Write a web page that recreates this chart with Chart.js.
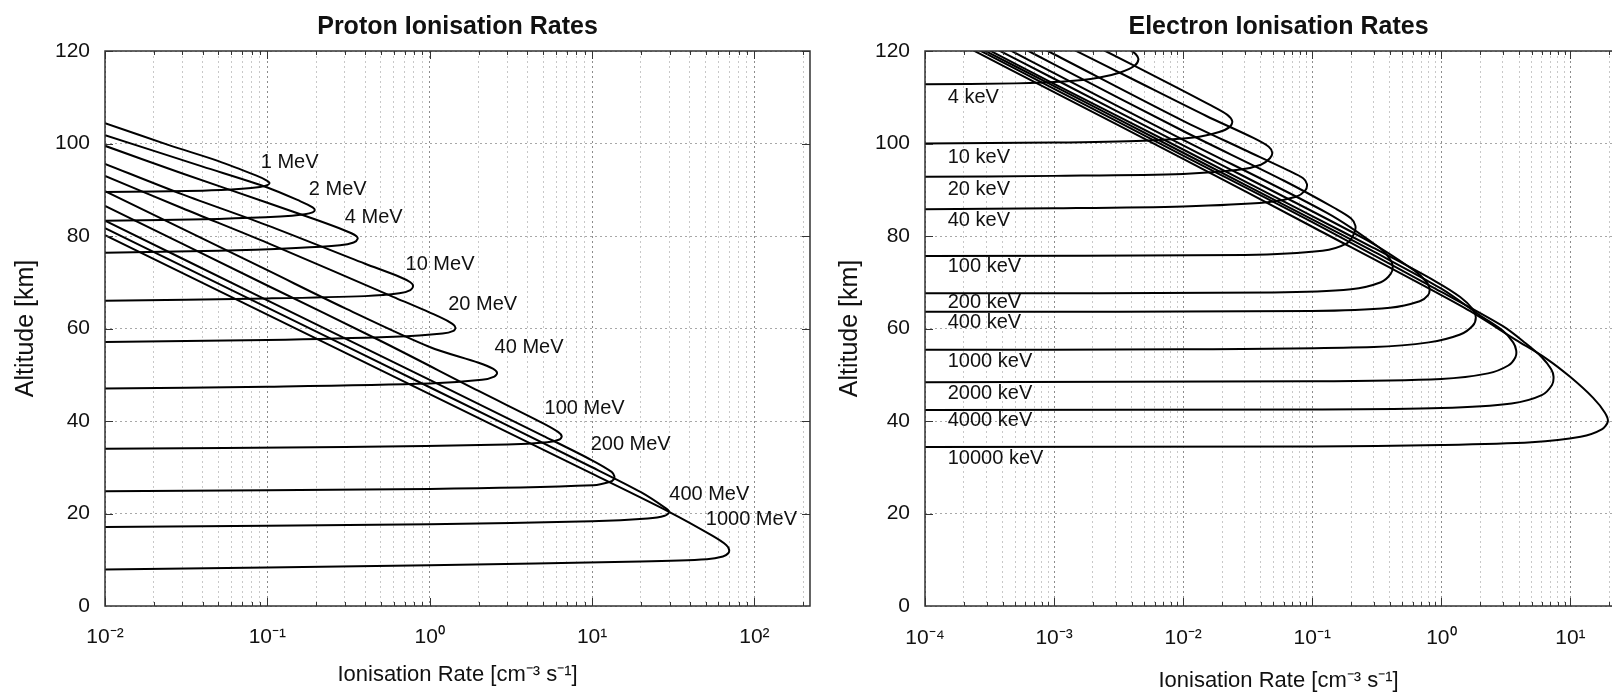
<!DOCTYPE html>
<html>
<head>
<meta charset="utf-8">
<script src="https://cdn.jsdelivr.net/npm/chart.js@4.4.1/dist/chart.umd.min.js"></script>
<style>
  html, body { margin: 0; padding: 0; background: #fff; width: 1612px; height: 694px; overflow: hidden; position: relative; }
  .box { position: absolute; top: 0; }
  #protonBox { left: 0; width: 830px; height: 694px; }
  #electronBox { left: 820px; width: 812px; height: 694px; }
  canvas { display: block; }
</style>
</head>
<body>
<div class="box" id="protonBox"><canvas id="protonChart" width="830" height="694"></canvas></div>
<div class="box" id="electronBox"><canvas id="electronChart" width="812" height="694"></canvas></div>
<script>
// curves are [rate, altitude] pairs, read along each hairpin: lower branch -> peak -> upper branch
var proton1MeV = [[0.01,89.5],[0.04,89.8],[0.07,90.2],[0.09,90.6],[0.1,91.0],[0.103,91.5],[0.098,92.1],[0.085,93.1],[0.05,96.2],[0.025,99.6],[0.01,104.4]];
var proton2MeV = [[0.01,83.3],[0.05,83.7],[0.12,84.2],[0.17,84.7],[0.19,85.1],[0.196,85.6],[0.19,86.2],[0.16,87.5],[0.1,90.5],[0.04,95.0],[0.01,101.8]];
var proton4MeV = [[0.01,76.4],[0.05,76.8],[0.15,77.4],[0.28,78.0],[0.34,78.6],[0.36,79.4],[0.35,80.1],[0.3,81.2],[0.2,83.5],[0.1,87.2],[0.03,93.5],[0.01,99.5]];
var proton10MeV = [[0.01,66.0],[0.1,66.5],[0.4,67.0],[0.65,67.6],[0.76,68.3],[0.79,69.2],[0.76,70.0],[0.65,71.2],[0.4,74.0],[0.1,82.3],[0.03,89.0],[0.01,95.6]];
var proton20MeV = [[0.01,57.1],[0.1,57.5],[0.6,58.2],[1.2,58.9],[1.4,59.5],[1.44,60.2],[1.38,61.0],[1.15,62.5],[0.6,66.8],[0.1,78.5],[0.03,86.0],[0.01,93.0]];
var proton40MeV = [[0.01,47.0],[0.1,47.4],[1,48.1],[2.1,48.9],[2.5,49.6],[2.6,50.4],[2.45,51.3],[2.0,52.6],[1.0,56.0],[0.3,64.4],[0.1,72.6],[0.01,89.7]];
var proton100MeV = [[0.01,34.0],[0.3,34.4],[3,34.9],[5.3,35.4],[6.3,36.0],[6.5,36.7],[6.2,37.6],[5,39.5],[2,46.5],[0.5,57.3],[0.1,69.3],[0.01,86.5]];
var proton200MeV = [[0.01,24.8],[1,25.3],[10.2,26.1],[12.8,26.8],[13.6,27.4],[13.7,28.1],[13.2,29.0],[10,31.5],[5,36.8],[1,48.9],[0.1,66.1],[0.01,83.3]];
var proton400MeV = [[0.01,17.1],[1,17.7],[10,18.3],[22,18.9],[28,19.5],[29.9,20.3],[28.5,21.1],[20,24.6],[10,30.0],[1,47.3],[0.1,64.5],[0.01,81.7]];
var proton1000MeV = [[0.01,7.9],[1,8.8],[20,9.6],[51,10.1],[64,10.7],[69,11.4],[69.8,12.2],[67,13.2],[55,15.2],[30,20.3],[10,28.6],[1,45.8],[0.1,63.0],[0.01,80.2]];

var electron4keV = [[1e-4,112.8],[5e-4,113.0],[1.2e-3,113.4],[2.2e-3,114.2],[3.3e-3,115.4],[4.2e-3,116.8],[4.5e-3,118.2],[4.3e-3,119.3],[3.8e-3,120.5]];
var electron10keV = [[1e-4,100.0],[1e-3,100.2],[5e-3,100.6],[0.012,101.3],[0.019,102.5],[0.023,103.6],[0.024,104.8],[0.022,106.2],[0.016,108.4],[0.008,112.8],[0.0025,120.0],[0.002,121.4]];
var electron20keV = [[1e-4,92.8],[1e-3,93.0],[0.01,93.4],[0.027,94.3],[0.04,95.4],[0.047,96.8],[0.049,98.0],[0.046,99.3],[0.035,101.2],[0.015,106.0],[0.004,114.0],[0.0012,121.3]];
var electron40keV = [[1e-4,85.8],[1e-3,86.0],[0.01,86.4],[0.045,87.3],[0.075,88.5],[0.088,89.8],[0.091,91.2],[0.085,92.5],[0.065,94.2],[0.03,98.6],[0.01,104.9],[0.001,119.3],[0.0007,121.5]];
var electron100keV = [[1e-4,75.7],[0.03,75.9],[0.12,76.8],[0.185,78.4],[0.21,80.4],[0.216,82.2],[0.2,83.8],[0.15,86.0],[0.06,92.0],[0.01,102.7],[0.001,117.1],[5e-4,121.5]];
var electron200keV = [[1e-4,67.6],[0.05,67.8],[0.2,68.5],[0.34,70.0],[0.405,71.8],[0.42,73.5],[0.4,75.0],[0.33,77.5],[0.13,85.0],[0.01,100.8],[0.001,115.2],[4e-4,121.0]];
var electron400keV = [[1e-4,63.6],[0.1,63.8],[0.4,64.5],[0.68,65.9],[0.79,67.2],[0.81,68.6],[0.77,70.0],[0.62,72.5],[0.25,79.5],[0.01,99.6],[0.001,114.0],[3e-4,121.5]];
var electron1000keV = [[1e-4,55.4],[0.01,55.5],[0.3,56.0],[0.8,57.0],[1.4,58.7],[1.75,60.6],[1.85,62.4],[1.75,64.2],[1.4,66.8],[0.9,70.2],[0.3,77.4],[0.1,84.3],[0.01,98.7],[0.001,112.9],[2.8e-4,120.9]];
var electron2000keV = [[1e-4,48.4],[0.1,48.6],[1,49.1],[2.3,50.3],[3.3,52.0],[3.75,53.8],[3.8,55.3],[3.6,57.0],[3.0,59.5],[2.0,62.8],[1.0,68.6],[0.3,76.6],[0.1,83.6],[0.01,98.0],[0.001,112.4],[2.5e-4,121.0]];
var electron4000keV = [[1e-4,42.4],[0.1,42.5],[1,42.8],[3.5,43.8],[6.0,45.6],[7.2,47.8],[7.4,49.6],[7.1,51.2],[6.0,53.8],[4.5,56.8],[3.0,60.5],[1.0,67.9],[0.1,83.0],[0.01,97.4],[0.001,111.8],[2.2e-4,121.3]];
var electron10000keV = [[1e-4,34.4],[0.1,34.5],[1,34.8],[5,35.4],[12,36.6],[17.5,38.2],[19.5,39.9],[18.5,41.8],[15,45.0],[10,49.5],[6.5,53.5],[3.8,57.5],[1.5,64.5],[0.1,82.0],[0.01,96.7],[0.001,111.1],[2e-4,121.2]];

var protonNames = ['1 MeV','2 MeV','4 MeV','10 MeV','20 MeV','40 MeV','100 MeV','200 MeV','400 MeV','1000 MeV'];
var protonCurves = [proton1MeV, proton2MeV, proton4MeV, proton10MeV, proton20MeV, proton40MeV, proton100MeV, proton200MeV, proton400MeV, proton1000MeV];
var protonLabelRate = [0.091, 0.18, 0.30, 0.71, 1.30, 2.51, 5.1, 9.8, 29.9, 50.2];
var protonLabelAlt = [95.9, 90.0, 84.0, 73.9, 65.2, 55.8, 42.8, 34.9, 24.1, 18.7];

var electronNames = ['4 keV','10 keV','20 keV','40 keV','100 keV','200 keV','400 keV','1000 keV','2000 keV','4000 keV','10000 keV'];
var electronCurves = [electron4keV, electron10keV, electron20keV, electron40keV, electron100keV, electron200keV, electron400keV, electron1000keV, electron2000keV, electron4000keV, electron10000keV];
var electronLabelRate = [1.5e-4, 1.5e-4, 1.5e-4, 1.5e-4, 1.5e-4, 1.5e-4, 1.5e-4, 1.5e-4, 1.5e-4, 1.5e-4, 1.5e-4];
var electronLabelAlt = [109.9, 96.9, 90.0, 83.3, 73.5, 65.6, 61.3, 52.9, 46.0, 40.1, 32.0];

var protonRateTicks = [0.01, 0.1, 1, 10, 100];
var protonRateTickLabels = ['10\u207B\u00B2', '10\u207B\u00B9', '10\u2070', '10\u00B9', '10\u00B2'];
var electronRateTicks = [1e-4, 1e-3, 0.01, 0.1, 1, 10];
var electronRateTickLabels = ['10\u207B\u2074', '10\u207B\u00B3', '10\u207B\u00B2', '10\u207B\u00B9', '10\u2070', '10\u00B9'];
var altitudeTicks = [0, 20, 40, 60, 80, 100, 120];

Chart.defaults.font.family = "'Liberation Sans', Arial, sans-serif";
Chart.defaults.color = '#111';

var borderTicks = {
  id: 'borderTicks',
  afterDatasetsDraw: function(chart, args, opts) {
    var ctx = chart.ctx, a = chart.chartArea, x = chart.scales.x, y = chart.scales.y;
    var openRight = opts && opts.openRight;
    ctx.save();
    ctx.beginPath();
    ctx.rect(a.left, a.top, a.right - a.left, a.bottom - a.top);
    ctx.clip();
    ctx.strokeStyle = '#333';
    ctx.lineWidth = 1;
    ctx.beginPath();
    x.ticks.forEach(function(t) {
      var px = Math.round(x.getPixelForValue(t.value)) + 0.5;
      var len = t.decade ? 8 : 4;
      ctx.moveTo(px, a.bottom); ctx.lineTo(px, a.bottom - len);
      ctx.moveTo(px, a.top); ctx.lineTo(px, a.top + len);
    });
    y.ticks.forEach(function(t) {
      var py = Math.round(y.getPixelForValue(t.value)) + 0.5;
      ctx.moveTo(a.left, py); ctx.lineTo(a.left + 8, py);
      if (!openRight) { ctx.moveTo(a.right, py); ctx.lineTo(a.right - 8, py); }
    });
    ctx.stroke();
    ctx.restore();

    ctx.save();
    ctx.strokeStyle = '#333';
    ctx.lineWidth = 1.5;
    ctx.beginPath();
    if (openRight) {
      ctx.moveTo(a.right + 2, a.top);
      ctx.lineTo(a.left, a.top);
      ctx.lineTo(a.left, a.bottom);
      ctx.lineTo(a.right + 2, a.bottom);
    } else {
      ctx.rect(a.left, a.top, a.right - a.left, a.bottom - a.top);
    }
    ctx.stroke();

    // energy labels next to the curves
    ctx.fillStyle = '#111';
    ctx.font = "20px 'Liberation Sans', Arial, sans-serif";
    ctx.textAlign = 'left';
    ctx.textBaseline = 'middle';
    chart.data.datasets.forEach(function(ds) {
      ctx.fillText(ds.label, x.getPixelForValue(ds.labelAt[0]), y.getPixelForValue(ds.labelAt[1]));
    });
    ctx.restore();
  }
};

// tick padding is put into tickLength so the layout keeps no extra space at the right edge
function rateAxis(min, max, tickVals, tickLabels, labelGap, titlePad) {
  return {
    type: 'logarithmic',
    min: min,
    max: max,
    afterBuildTicks: function(scale) {
      var ticks = [];
      for (var e = Math.round(Math.log10(min)); Math.pow(10, e) <= max; e++) {
        for (var k = 1; k <= 9; k++) {
          var v = k * Math.pow(10, e);
          if (v >= min * 0.999 && v <= max * 1.001) ticks.push({ value: v, decade: k === 1 });
        }
      }
      scale.ticks = ticks;
    },
    afterFit: function(scale) { scale.height = 88; },
    ticks: {
      autoSkip: false,
      maxRotation: 0,
      padding: 0,
      font: { size: 21 },
      color: '#111',
      callback: function(v) {
        for (var i = 0; i < tickVals.length; i++) {
          if (Math.abs(v - tickVals[i]) < tickVals[i] * 1e-6) return tickLabels[i];
        }
        return '';
      }
    },
    grid: {
      drawTicks: true,
      tickLength: labelGap,
      tickColor: 'rgba(0,0,0,0)',
      lineWidth: 1,
      color: function(c) { return (c.tick && c.tick.decade) ? '#8c8c8c' : '#c8c8c8'; },
      borderDash: [2, 3]
    },
    border: { display: false, dash: [2, 3] },
    title: {
      display: true,
      text: 'Ionisation Rate [cm\u207B\u00B3 s\u207B\u00B9]',
      font: { size: 22 },
      color: '#111',
      padding: { top: 0, bottom: titlePad }
    }
  };
}

function altAxis(titlePad) {
  return {
    type: 'linear',
    min: 0,
    max: 120,
    afterBuildTicks: function(scale) {
      scale.ticks = altitudeTicks.map(function(v) { return { value: v }; });
    },
    afterFit: function(scale) { scale.width = 105; },
    ticks: { font: { size: 21 }, color: '#111', padding: 15 },
    grid: { drawTicks: false, color: '#a8a8a8', lineWidth: 1, borderDash: [2, 3] },
    border: { display: false, dash: [2, 3] },
    title: {
      display: true,
      text: 'Altitude [km]',
      font: { size: 25 },
      color: '#111',
      padding: { top: titlePad, bottom: 0 }
    }
  };
}

function makeDatasets(names, curves, labelRate, labelAlt) {
  return curves.map(function(curve, i) {
    return {
      label: names[i],
      data: curve.map(function(p) { return { x: p[0], y: p[1] }; }),
      labelAt: [labelRate[i], labelAlt[i]],
      showLine: true,
      borderColor: '#000',
      borderWidth: 2,
      pointRadius: 0,
      tension: 0.3,
      fill: false
    };
  });
}

function makeChart(id, title, datasets, xAxis, yAxis, padRight, openRight) {
  return new Chart(document.getElementById(id).getContext('2d'), {
    type: 'scatter',
    data: { datasets: datasets },
    options: {
      responsive: false,
      maintainAspectRatio: false,
      animation: false,
      devicePixelRatio: 1,
      layout: { padding: { left: 0, right: padRight, top: 0, bottom: 0 } },
      scales: { x: xAxis, y: yAxis },
      plugins: {
        legend: { display: false },
        tooltip: { enabled: false },
        borderTicks: { openRight: openRight },
        title: {
          display: true,
          text: title,
          fullSize: false,
          color: '#111',
          font: { size: 25, weight: 'bold' },
          padding: { top: 12, bottom: 9 }
        }
      }
    },
    plugins: [borderTicks]
  });
}

var protonChart = makeChart('protonChart', 'Proton Ionisation Rates',
  makeDatasets(protonNames, protonCurves, protonLabelRate, protonLabelAlt),
  rateAxis(0.01, 220, protonRateTicks, protonRateTickLabels, 19, 6),
  altAxis(11), 20, false);

var electronChart = makeChart('electronChart', 'Electron Ionisation Rates',
  makeDatasets(electronNames, electronCurves, electronLabelRate, electronLabelAlt),
  rateAxis(1e-4, 30, electronRateTicks, electronRateTickLabels, 20, 0),
  altAxis(15), 0, true);
</script>
</body>
</html>
